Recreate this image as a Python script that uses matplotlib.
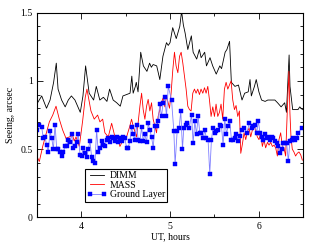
import matplotlib
matplotlib.use('Agg')
import matplotlib.pyplot as plt
from matplotlib.ticker import MultipleLocator

plt.rcParams['font.family'] = ['Liberation Serif', 'DejaVu Serif']

# DIMM seeing (UT hours, arcsec)
dimm_t = [3.500, 3.556, 3.610, 3.650, 3.690, 3.720, 3.740, 3.780, 3.820, 3.855,
          3.890, 3.930, 3.970, 3.990, 4.020, 4.050, 4.090, 4.140, 4.170, 4.210,
          4.250, 4.290, 4.320, 4.360, 4.400, 4.440, 4.470, 4.510, 4.550, 4.570,
          4.585, 4.610, 4.620, 4.640, 4.670, 4.700, 4.740, 4.770, 4.790, 4.810,
          4.850, 4.885, 4.920, 4.960, 4.980, 5.000, 5.030, 5.070, 5.110, 5.130,
          5.150, 5.170, 5.200, 5.240, 5.260, 5.300, 5.330, 5.350, 5.390, 5.410,
          5.450, 5.480, 5.520, 5.560, 5.580, 5.620, 5.640, 5.670, 5.690, 5.730,
          5.770, 5.810, 5.840, 5.880, 5.900, 5.915, 5.950, 5.970, 6.000, 6.030,
          6.070, 6.100, 6.140, 6.180, 6.210, 6.250, 6.290, 6.310, 6.340, 6.350,
          6.380, 6.400, 6.440, 6.460, 6.490]
dimm_v = [0.83, 0.89, 0.80, 0.86, 0.99, 1.13, 0.94, 0.86, 0.81, 0.86,
          0.89, 0.86, 0.80, 0.77, 0.89, 1.11, 0.91, 0.86, 0.96, 0.86,
          0.88, 0.85, 0.94, 0.86, 0.84, 0.815, 0.89, 0.90, 0.91, 1.035,
          0.91, 0.96, 0.99, 0.92, 1.21, 1.11, 1.07, 1.13, 1.10, 1.12,
          1.11, 1.01, 1.18, 1.28, 1.26, 1.28, 1.39, 1.31, 1.40, 1.51,
          1.41, 1.35, 1.23, 1.33, 1.21, 1.16, 1.23, 1.17, 1.21, 1.11,
          1.17, 1.11, 1.05, 1.11, 1.09, 1.21, 1.23, 1.29, 0.99, 0.96,
          0.97, 0.86, 0.91, 0.92, 1.01, 0.89, 0.96, 1.01, 0.92, 0.86,
          0.85, 0.86, 0.86, 0.86, 0.84, 0.81, 0.84, 0.77, 1.19, 0.96,
          0.79, 0.79, 0.79, 0.81, 0.79]

# MASS seeing
mass_t = [3.500, 3.529, 3.567, 3.604, 3.642, 3.680, 3.717, 3.754, 3.792, 3.829,
          3.866, 3.904, 3.922, 3.942, 3.979, 4.017, 4.046, 4.065, 4.110, 4.147,
          4.185, 4.211, 4.242, 4.267, 4.305, 4.343, 4.380, 4.417, 4.436, 4.473,
          4.511, 4.548, 4.567, 4.585, 4.624, 4.661, 4.680, 4.698, 4.717, 4.736,
          4.754, 4.773, 4.792, 4.810, 4.829, 4.848, 4.866, 4.885, 4.904, 4.922,
          4.942, 4.960, 4.975, 4.994, 5.012, 5.031, 5.050, 5.068, 5.088, 5.107,
          5.125, 5.144, 5.163, 5.181, 5.200, 5.219, 5.237, 5.256, 5.275, 5.293,
          5.312, 5.331, 5.349, 5.369, 5.388, 5.406, 5.425, 5.444, 5.462, 5.481,
          5.500, 5.518, 5.537, 5.556, 5.574, 5.593, 5.612, 5.631, 5.650, 5.669,
          5.687, 5.706, 5.725, 5.743, 5.762, 5.781, 5.796, 5.815, 5.833, 5.852,
          5.871, 5.889, 5.908, 5.927, 5.945, 5.964, 5.983, 6.001, 6.020, 6.039,
          6.057, 6.076, 6.096, 6.114, 6.133, 6.152, 6.170, 6.189, 6.208, 6.226,
          6.245, 6.264, 6.282, 6.301, 6.320, 6.338, 6.349, 6.361, 6.376, 6.394,
          6.413, 6.432, 6.451, 6.470, 6.489]
mass_v = [0.45, 0.41, 0.52, 0.61, 0.70, 0.75, 0.815, 0.72, 0.64, 0.58,
          0.59, 0.60, 0.56, 0.59, 0.52, 0.71, 0.88, 0.94, 0.78, 0.72,
          0.75, 0.70, 0.72, 0.62, 0.59, 0.69, 0.59, 0.57, 0.52, 0.57,
          0.59, 0.67, 0.72, 0.67, 0.59, 0.815, 0.91, 0.79, 0.72, 0.815,
          0.865, 0.78, 0.84, 0.72, 0.67, 0.62, 0.74, 0.79, 0.84, 0.875,
          0.81, 0.89, 0.85, 0.80, 0.91, 1.08, 1.21, 1.11, 1.06, 1.18,
          1.21, 1.13, 1.03, 0.94, 0.815, 0.79, 0.78, 0.91, 0.94, 0.91,
          0.94, 0.90, 0.94, 0.91, 0.95, 0.91, 0.96, 0.86, 0.74, 0.81,
          0.74, 0.83, 0.74, 0.77, 0.83, 0.72, 0.94, 0.99, 0.94, 0.97,
          1.00, 0.86, 0.79, 0.82, 0.74, 0.78, 0.47, 0.54, 0.62, 0.57,
          0.63, 0.655, 0.59, 0.64, 0.69, 0.63, 0.59, 0.57, 0.62, 0.52,
          0.57, 0.51, 0.55, 0.53, 0.55, 0.52, 0.53, 0.51, 0.45, 0.57,
          0.62, 0.52, 0.51, 0.45, 0.79, 1.07, 0.77, 0.59, 0.50, 0.48,
          0.45, 0.47, 0.48, 0.46, 0.42]

# Ground layer seeing
gl_t = [3.500, 3.529, 3.556, 3.574, 3.593, 3.612, 3.630, 3.649, 3.669, 3.687,
        3.706, 3.725, 3.743, 3.762, 3.781, 3.799, 3.818, 3.837, 3.855, 3.874,
        3.893, 3.911, 3.930, 3.949, 3.967, 3.987, 4.006, 4.024, 4.043, 4.062,
        4.080, 4.099, 4.118, 4.136, 4.155, 4.174, 4.192, 4.211, 4.230, 4.248,
        4.267, 4.287, 4.305, 4.324, 4.343, 4.361, 4.380, 4.399, 4.417, 4.436,
        4.455, 4.473, 4.492, 4.511, 4.529, 4.548, 4.567, 4.585, 4.604, 4.623,
        4.642, 4.661, 4.680, 4.698, 4.717, 4.736, 4.754, 4.773, 4.792, 4.811,
        4.829, 4.848, 4.866, 4.885, 4.904, 4.922, 4.942, 4.960, 4.980, 5.017,
        5.043, 5.057, 5.080, 5.102, 5.121, 5.140, 5.155, 5.178, 5.192, 5.215,
        5.242, 5.260, 5.279, 5.298, 5.316, 5.335, 5.354, 5.372, 5.391, 5.410,
        5.428, 5.447, 5.466, 5.484, 5.503, 5.522, 5.540, 5.559, 5.579, 5.597,
        5.616, 5.635, 5.653, 5.672, 5.691, 5.709, 5.728, 5.747, 5.767, 5.786,
        5.806, 5.833, 5.863, 5.893, 5.919, 5.938, 5.956, 5.975, 5.994, 6.012,
        6.031, 6.050, 6.069, 6.088, 6.107, 6.125, 6.144, 6.163, 6.181, 6.200,
        6.219, 6.237, 6.256, 6.275, 6.293, 6.312, 6.331, 6.349, 6.369, 6.388,
        6.406, 6.425, 6.444, 6.481]
gl_v = [0.64, 0.68, 0.66, 0.58, 0.59, 0.53, 0.48, 0.63, 0.58, 0.50,
        0.68, 0.50, 0.50, 0.48, 0.45, 0.48, 0.52, 0.52, 0.57, 0.55,
        0.61, 0.51, 0.52, 0.55, 0.61, 0.46, 0.45, 0.51, 0.47, 0.44,
        0.50, 0.56, 0.44, 0.41, 0.40, 0.64, 0.48, 0.51, 0.56, 0.53,
        0.52, 0.57, 0.58, 0.55, 0.59, 0.58, 0.56, 0.59, 0.55, 0.58,
        0.56, 0.59, 0.58, 0.51, 0.51, 0.56, 0.66, 0.61, 0.57, 0.68,
        0.57, 0.56, 0.66, 0.56, 0.61, 0.55, 0.69, 0.64, 0.59, 0.51,
        0.67, 0.67, 0.71, 0.83, 0.74, 0.84, 0.88, 0.74, 0.96, 0.86,
        0.63, 0.39, 0.63, 0.655, 0.78, 0.50, 0.655, 0.68, 0.69, 0.655,
        0.75, 0.545, 0.705, 0.61, 0.74, 0.62, 0.62, 0.58, 0.64, 0.58,
        0.57, 0.32, 0.57, 0.655, 0.62, 0.63, 0.64, 0.68, 0.67, 0.53,
        0.72, 0.61, 0.67, 0.705, 0.57, 0.57, 0.58, 0.61, 0.56, 0.60,
        0.64, 0.655, 0.62, 0.69, 0.655, 0.67, 0.68, 0.62, 0.705, 0.62,
        0.59, 0.57, 0.61, 0.58, 0.59, 0.57, 0.59, 0.58, 0.56, 0.545,
        0.52, 0.47, 0.50, 0.545, 0.545, 0.545, 0.41, 0.56, 0.57, 0.58,
        0.57, 0.58, 0.62, 0.655]

fig = plt.figure(figsize=(3.14, 2.43), dpi=100)
ax = fig.add_axes([0.117, 0.105, 0.849, 0.843])

ax.plot(dimm_t, dimm_v, color='black', linewidth=0.6, label='DIMM')
ax.plot(mass_t, mass_v, color='red', linewidth=0.6, label='MASS')
ax.plot(gl_t, gl_v, color='#7f7fff', linewidth=0.6, marker='s', markersize=2.5,
        markerfacecolor='#0000ff', markeredgecolor='#0000ff', markeredgewidth=0.3,
        label='Ground Layer')

ax.set_xlim(3.5, 6.5)
ax.set_ylim(0, 1.5)
ax.xaxis.set_major_locator(MultipleLocator(1))
ax.xaxis.set_minor_locator(MultipleLocator(0.5))
ax.yaxis.set_minor_locator(MultipleLocator(0.1))
ax.set_yticks([0, 0.5, 1, 1.5])
ax.set_yticklabels(['0', '0.5', '1', '1.5'])
ax.tick_params(which='both', direction='in', top=True, right=True, labelsize=7, pad=3)
ax.tick_params(which='major', length=4, width=0.6)
ax.tick_params(which='minor', length=2, width=0.6)
for s in ax.spines.values():
    s.set_linewidth(0.8)

ax.set_xlabel('UT, hours', fontsize=7, labelpad=1)
ax.set_ylabel('Seeing, arcsec', fontsize=7, labelpad=4)

leg = ax.legend(loc='lower left', bbox_to_anchor=(0.181, 0.077), borderaxespad=0,
                fontsize=7, frameon=True, fancybox=False, framealpha=1,
                edgecolor='black', handlelength=2.0, handletextpad=0.3,
                labelspacing=0.05, borderpad=0.25, numpoints=2)
leg.get_frame().set_linewidth(0.8)

fig.savefig('out.png', dpi=100)
